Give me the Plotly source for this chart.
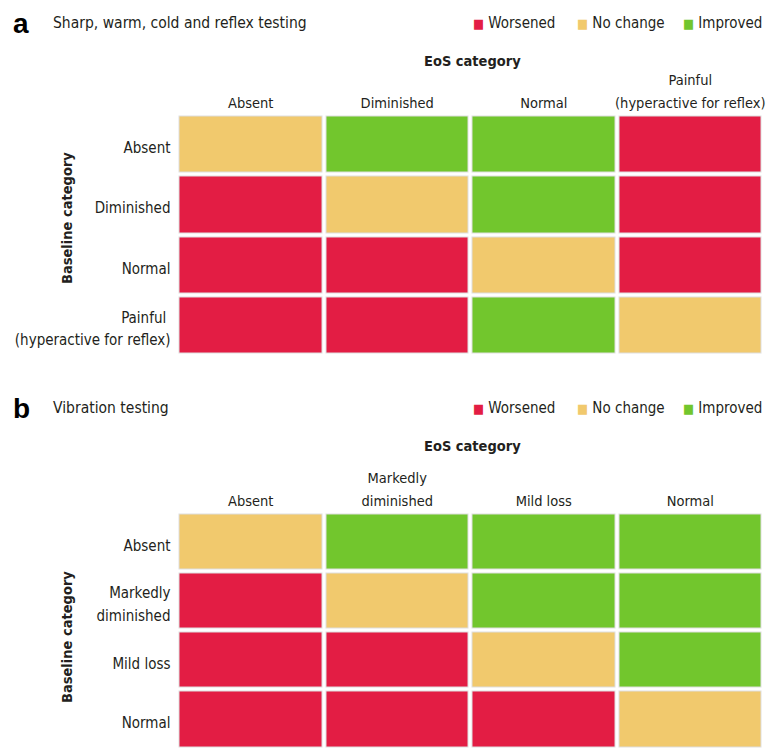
import plotly.graph_objects as go

# Outcome codes: -1 worsened, 0 no change, 1 improved
outcome_names = ["Worsened", "No change", "Improved"]
outcome_colors = ["#E31D44", "#F1C96D", "#72C62D"]

# Panel a: sharp, warm, cold and reflex testing
a_eos = ["Absent", "Diminished", "Normal", "Painful<br>(hyperactive for reflex)"]
a_baseline = ["Absent", "Diminished", "Normal", "Painful <br>(hyperactive for reflex)"]
a_change = [
    [0, 1, 1, -1],
    [-1, 0, 1, -1],
    [-1, -1, 0, -1],
    [-1, -1, 1, 0],
]

# Panel b: vibration testing
b_eos = ["Absent", "Markedly<br>diminished", "Mild loss", "Normal"]
b_baseline = ["Absent", "Markedly<br>diminished", "Mild loss", "Normal"]
b_change = [
    [0, 1, 1, 1],
    [-1, 0, 1, 1],
    [-1, -1, 0, 1],
    [-1, -1, -1, 0],
]

W, H = 768, 749
FONT = "DejaVu Sans Condensed, Liberation Sans Narrow, Roboto, sans-serif"
TXT = "#231F20"
EDGE = "#DEDEDE"


def px(x):
    return x / W


def py(y):
    return 1 - y / H


def airy(label, size=14.5):
    # glyphs at `size`, line spacing taken from the larger tick font
    return "<br>".join("<span style='font-size:%spx'>%s</span>" % (size, part)
                       for part in label.split("<br>"))


colorscale = [
    [0.0, outcome_colors[0]], [1 / 3, outcome_colors[0]],
    [1 / 3, outcome_colors[1]], [2 / 3, outcome_colors[1]],
    [2 / 3, outcome_colors[2]], [1.0, outcome_colors[2]],
]

fig = go.Figure()
for i, (cols, rows, z) in enumerate([(a_eos, a_baseline, a_change),
                                     (b_eos, b_baseline, b_change)]):
    sfx = "" if i == 0 else str(i + 1)
    xs, ys = list(range(len(cols))), list(range(len(rows)))
    # thin grey rim behind each brick
    fig.add_trace(go.Heatmap(
        z=z, x=xs, y=ys, colorscale=[[0, EDGE], [1, EDGE]], showscale=False,
        xgap=3, ygap=3, hoverinfo="skip", xaxis="x" + sfx, yaxis="y" + sfx,
    ))
    fig.add_trace(go.Heatmap(
        z=z, x=xs, y=ys,
        zmin=-1.5, zmax=1.5, colorscale=colorscale, showscale=False,
        xgap=5, ygap=5, hoverinfo="skip",
        xaxis="x" + sfx, yaxis="y" + sfx,
    ))

axis_font = dict(family=FONT, size=17.5, color=TXT)
panels = [
    dict(cols=a_eos, rows=a_baseline, top=114.5, bottom=355.5),
    dict(cols=b_eos, rows=b_baseline, top=512.5, bottom=749),
]
layout = {}
for i, p in enumerate(panels):
    sfx = "" if i == 0 else str(i + 1)
    layout["xaxis" + sfx] = dict(
        domain=[px(177.5), px(763.5)], anchor="y" + sfx, side="top",
        tickvals=list(range(4)), ticktext=[airy(c) for c in p["cols"]], tickfont=axis_font,
        showgrid=False, zeroline=False, showline=False, ticks="", automargin=False,
        ticklabelstandoff=2, range=[-0.5, 3.5], fixedrange=True,
    )
    layout["yaxis" + sfx] = dict(
        domain=[max(py(p["bottom"]), 0), py(p["top"])], anchor="x" + sfx,
        # labels sit a touch below each row's centre line
        tickvals=[k + 0.04 for k in range(4)], ticktext=[airy(r, 15) for r in p["rows"]],
        tickfont=axis_font,
        showgrid=False, zeroline=False, showline=False, ticks="", automargin=False,
        ticklabelstandoff=6, range=[3.5, -0.5], fixedrange=True,
    )

annotations = []
for label, title, ty, ly, axis_y in [("a", "Sharp, warm, cold and reflex testing", 23, 61, 218),
                                     ("b", "Vibration testing", 408, 446, 637)]:
    annotations.append(dict(text="<b>%s</b>" % label, x=px(11), y=py(ty), xref="paper", yref="paper",
                            xanchor="left", yanchor="middle", showarrow=False,
                            font=dict(family="Liberation Sans, Arial, sans-serif", size=28, color="#000")))
    annotations.append(dict(text=title, x=px(51), y=py(ty), xref="paper", yref="paper",
                            xanchor="left", yanchor="middle", showarrow=False,
                            font=dict(family=FONT, size=15.5, color=TXT)))
    annotations.append(dict(text="<b>EoS category</b>", x=px(472), y=py(ly), xref="paper", yref="paper",
                            xanchor="center", yanchor="middle", showarrow=False,
                            font=dict(family=FONT, size=14.5, color=TXT)))
    annotations.append(dict(text="<b>Baseline category</b>", x=px(67), y=py(axis_y), xref="paper",
                            yref="paper", xanchor="center", yanchor="middle", showarrow=False,
                            textangle=-90, font=dict(family=FONT, size=14.5, color=TXT)))
    # legend: coloured square followed by label
    for name, color, lx in zip(outcome_names, outcome_colors, [471, 575, 681]):
        annotations.append(dict(
            text="<span style='color:%s;font-size:13px'>■</span> %s" % (color, name),
            x=px(lx), y=py(ty), xref="paper", yref="paper", xanchor="left", yanchor="middle",
            showarrow=False, font=dict(family=FONT, size=15, color=TXT)))

fig.update_layout(
    width=W, height=H, margin=dict(l=0, r=0, t=0, b=0),
    paper_bgcolor="white", plot_bgcolor="white", showlegend=False,
    annotations=annotations, **layout,
)

fig.write_html("out.html", config={"displayModeBar": False})
